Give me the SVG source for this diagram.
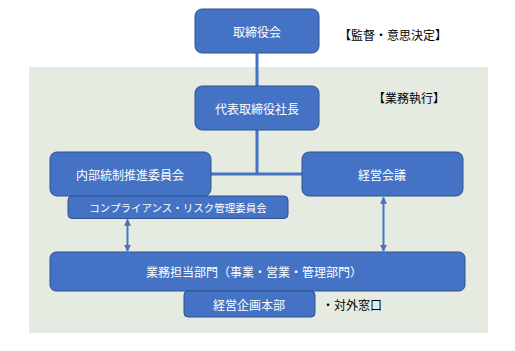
<svg xmlns="http://www.w3.org/2000/svg" width="515" height="351" viewBox="0 0 515 351">
<style>
.box{fill:#4472C4;stroke:#2F528F;stroke-width:1}
.t{font-family:"Noto Sans CJK JP","Noto Sans",sans-serif;font-size:12px;fill:#fff;text-anchor:middle;dominant-baseline:central}
.k{font-family:"Noto Sans CJK JP","Noto Sans",sans-serif;font-size:12px;fill:#000;dominant-baseline:central}
.ln{stroke:#4472C4;stroke-width:3;fill:none}
.ar{stroke:#4472C4;stroke-width:2;fill:none;marker-start:url(#ah);marker-end:url(#ah)}
</style>
<defs>
<marker id="ah" viewBox="0 0 10 10" refX="9" refY="5" markerWidth="3.5" markerHeight="3.5" orient="auto-start-reverse" markerUnits="strokeWidth">
<path d="M0,0 L10,5 L0,10 z" fill="#4472C4"/>
</marker>
</defs>
<rect x="0" y="0" width="515" height="351" fill="#fff"/>
<rect id="area" x="29" y="67" width="459" height="266" fill="#E6EBE1"/>
<g id="connectors">
<line class="ln" x1="257" y1="53" x2="257" y2="87"/>
<line class="ln" x1="257" y1="130" x2="257" y2="174"/>
<line class="ln" x1="211" y1="174" x2="302" y2="174"/>
<line class="ar" x1="127.5" y1="219.5" x2="127.5" y2="251"/>
<line class="ar" x1="383.5" y1="197.5" x2="383.5" y2="251"/>
</g>
<g id="board"><rect class="box" x="195" y="9" width="124" height="44" rx="7"/><text class="t" x="257" y="31">取締役会</text></g>
<text class="k" x="339" y="34">【監督・意思決定】</text>
<g id="president"><rect class="box" x="195" y="86" width="124" height="44" rx="7"/><text class="t" x="257" y="108">代表取締役社長</text></g>
<text class="k" x="373" y="97">【業務執行】</text>
<g id="internal"><rect class="box" x="50" y="152" width="161" height="44" rx="7"/><text class="t" x="130" y="174">内部統制推進委員会</text></g>
<g id="mgmt"><rect class="box" x="302" y="152" width="161" height="44" rx="7"/><text class="t" x="382" y="174">経営会議</text></g>
<g id="compliance"><rect class="box" x="68" y="196" width="220" height="22.5" rx="4"/><text class="t" x="178" y="207" style="font-size:10.5px">コンプライアンス・リスク管理委員会</text></g>
<g id="business"><rect class="box" x="50" y="252" width="415" height="39" rx="6"/><text class="t" x="254" y="271.5">業務担当部門（事業・営業・管理部門）</text></g>
<g id="planning"><rect class="box" x="184" y="291" width="131" height="26" rx="4"/><text class="t" x="249" y="304.5">経営企画本部</text></g>
<text class="k" x="322" y="304.5">・対外窓口</text>
</svg>
